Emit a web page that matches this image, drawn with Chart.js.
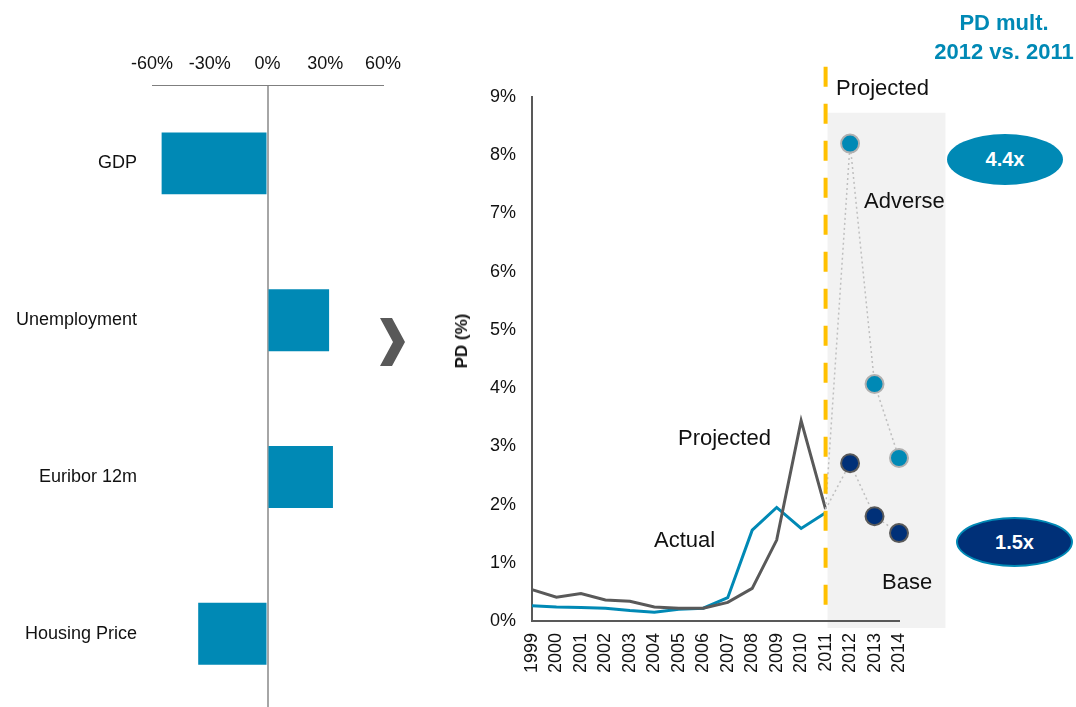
<!DOCTYPE html>
<html>
<head>
<meta charset="utf-8">
<script src="https://cdn.jsdelivr.net/npm/chart.js@4.4.0/dist/chart.umd.min.js"></script>
<style>
  html, body { margin: 0; padding: 0; background: #fff; overflow: hidden; }
  body { width: 1076px; height: 707px; position: relative; font-family: 'Liberation Sans', Arial, sans-serif; }
  #drivers { position: absolute; left: 0; top: 0; }
  #pd { position: absolute; left: 449px; top: 0; }
  .lbl { position: absolute; transform: translateY(-50%); font-size: 22px; color: #111; white-space: nowrap; }
  .pill { position: absolute; border-radius: 50%; color: #fff; font-weight: bold; font-size: 20px;
          display: flex; align-items: center; justify-content: center; box-sizing: border-box; }
  #chev { position: absolute; left: 380px; top: 318px; width: 25px; height: 48px; background: #595959;
          clip-path: polygon(0 0, 48% 0, 100% 50%, 48% 100%, 0 100%, 52% 50%); }
  #mult { position: absolute; left: 924px; top: 8px; width: 160px; text-align: center; color: #0089b5;
          font-weight: bold; font-size: 22px; line-height: 29px; }
  #ytitle { position: absolute; left: 462px; top: 341px; transform: translate(-50%, -50%) rotate(-90deg);
            font-weight: bold; font-size: 17px; color: #111; white-space: nowrap; }
</style>
</head>
<body>
<canvas id="drivers" width="420" height="738"></canvas>
<div id="chev"></div>
<canvas id="pd" width="627" height="707"></canvas>

<div id="mult">PD mult.<br>2012 vs. 2011</div>
<div id="ytitle">PD (%)</div>
<div class="lbl" style="left:836px; top:88px">Projected</div>
<div class="lbl" style="left:864px; top:201px">Adverse</div>
<div class="lbl" style="left:678px; top:438px">Projected</div>
<div class="lbl" style="left:654px; top:540px">Actual</div>
<div class="lbl" style="left:882px; top:582px">Base</div>
<div class="pill" style="left:947px; top:134px; width:116px; height:51px; background:#0089b5">4.4x</div>
<div class="pill" style="left:956px; top:517px; width:117px; height:50px; background:#003078; border:2px solid #0089b5">1.5x</div>

<script>
const FONT = "'Liberation Sans', Arial, sans-serif";

// macro drivers shock (left panel)
const drivers = ['GDP', 'Unemployment', 'Euribor 12m', 'Housing Price'];
const shock = [-55, 32, 34, -36];

// PD history and scenarios (right panel)
const years = ['1999','2000','2001','2002','2003','2004','2005','2006','2007','2008','2009','2010','2011','2012','2013','2014'];
const actual    = [0.26, 0.24, 0.23, 0.22, 0.18, 0.15, 0.20, 0.22, 0.40, 1.56, 1.95, 1.59, 1.86];
const projected = [0.54, 0.41, 0.47, 0.36, 0.34, 0.24, 0.22, 0.22, 0.32, 0.56, 1.39, 3.44, 1.92];
const adverse = [null, null, null, null, null, null, null, null, null, null, null, null, 1.92, 8.20, 4.07, 2.80];
const base    = [null, null, null, null, null, null, null, null, null, null, null, null, 1.92, 2.71, 1.80, 1.51];

const BLUE = '#0089b5', NAVY = '#003078', GREY = '#595959';

new Chart(document.getElementById('drivers'), {
  type: 'bar',
  data: {
    labels: drivers,
    datasets: [{ data: shock, backgroundColor: BLUE, barPercentage: 0.395, categoryPercentage: 1 }]
  },
  options: {
    indexAxis: 'y',
    responsive: false,
    animation: false,
    layout: { padding: { right: 37, bottom: 7 } },
    plugins: { legend: { display: false }, tooltip: { enabled: false } },
    scales: {
      x: {
        position: 'top', min: -60, max: 60,
        afterFit: s => { s.height = 85; },
        ticks: { stepSize: 30, padding: 10, color: '#111', font: { family: FONT, size: 18 }, callback: v => v + '%' },
        grid: { drawTicks: false, lineWidth: 2, color: c => c.tick && c.tick.value === 0 ? '#a6a6a6' : 'rgba(0,0,0,0)' },
        border: { display: true, color: '#7f7f7f', width: 1 }
      },
      y: {
        afterFit: s => { s.width = 152; },
        ticks: { padding: 15, color: '#111', font: { family: FONT, size: 18 } },
        grid: { display: false, drawTicks: false },
        border: { display: false }
      }
    }
  }
});

// shaded projection window and the dashed split line
const shadeFrom = 12.08, shadeTo = 16.9, shadeTop = 8.73, shadeBottom = -0.12;
const splitAt = 12, splitTop = 9.52;

const projectionZone = {
  id: 'projectionZone',
  beforeDraw(chart) {
    const { ctx, scales: { x, y } } = chart;
    ctx.save();
    ctx.fillStyle = '#f2f2f2';
    const x0 = x.getPixelForValue(shadeFrom), x1 = x.getPixelForValue(shadeTo);
    const y0 = y.getPixelForValue(shadeTop), y1 = y.getPixelForValue(shadeBottom);
    ctx.fillRect(x0, y0, x1 - x0, y1 - y0);
    ctx.restore();
  },
  afterDatasetsDraw(chart) {
    const { ctx, scales: { x, y } } = chart;
    const px = x.getPixelForValue(splitAt);
    ctx.save();
    ctx.strokeStyle = '#ffc000';
    ctx.lineWidth = 4;
    ctx.setLineDash([20, 17]);
    ctx.beginPath();
    ctx.moveTo(px, y.getPixelForValue(splitTop));
    ctx.lineTo(px, y.getPixelForValue(0));
    ctx.stroke();
    ctx.restore();
  }
};

const scenarioRadius = ctx => ctx.dataIndex === 12 ? 0 : 9;

new Chart(document.getElementById('pd'), {
  type: 'line',
  data: {
    labels: years,
    datasets: [
      { data: adverse, borderColor: '#bfbfbf', borderWidth: 1.5, borderDash: [2, 3],
        pointRadius: scenarioRadius, pointBackgroundColor: BLUE, pointBorderColor: '#b0b0b0', pointBorderWidth: 2 },
      { data: base, borderColor: '#bfbfbf', borderWidth: 1.5, borderDash: [2, 3],
        pointRadius: scenarioRadius, pointBackgroundColor: NAVY, pointBorderColor: '#5a5a5a', pointBorderWidth: 2 },
      { data: projected, borderColor: GREY, borderWidth: 3, pointRadius: 0, tension: 0 },
      { data: actual, borderColor: BLUE, borderWidth: 3, pointRadius: 0, tension: 0 }
    ]
  },
  options: {
    responsive: false,
    animation: false,
    layout: { padding: { top: 97, right: 177 } },
    plugins: { legend: { display: false }, tooltip: { enabled: false } },
    scales: {
      x: {
        afterFit: s => { s.height = 86; },
        ticks: { minRotation: 90, maxRotation: 90, autoSkip: false, padding: 12, color: '#111', font: { family: FONT, size: 18 } },
        grid: { display: false, drawTicks: false },
        border: { display: true, color: GREY, width: 2 }
      },
      y: {
        min: 0, max: 9,
        afterFit: s => { s.width = 83; },
        ticks: { stepSize: 1, padding: 16, color: '#111', font: { family: FONT, size: 18 }, callback: v => v + '%' },
        grid: { display: false, drawTicks: false },
        border: { display: true, color: GREY, width: 2 }
      }
    }
  },
  plugins: [projectionZone]
});
</script>
</body>
</html>
